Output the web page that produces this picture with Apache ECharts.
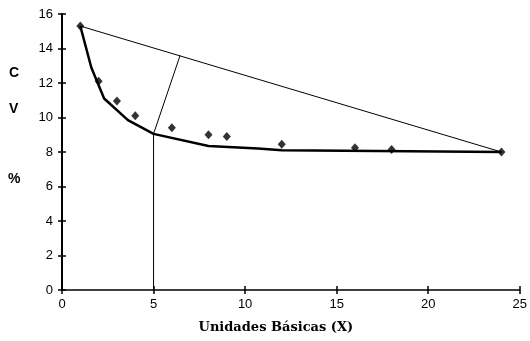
<!DOCTYPE html>
<html lang="es">
<head>
    <meta charset="UTF-8">
    <title>CV vs Unidades Básicas</title>
</head>
<body style="margin:0;background:#fff">
<div id="main" style="width:530px;height:341px"></div>

<script type="text/javascript" src="https://cdn.jsdelivr.net/npm/echarts@6/dist/echarts.min.js"></script>
<script type="text/javascript">
    // puntos observados (diamantes)
    var puntosX = [1, 2, 3, 4, 6, 8, 9, 12, 16, 18, 24];
    var puntosY = [15.3, 12.1, 10.95, 10.1, 9.4, 9.0, 8.9, 8.45, 8.25, 8.15, 8.0];
    // curva gruesa
    var curvaX = [1, 1.6, 2.3, 3.6, 5, 8, 10.7, 12, 24];
    var curvaY = [15.3, 12.9, 11.1, 9.85, 9.05, 8.35, 8.2, 8.1, 8.0];
    // recta entre extremos
    var rectaX = [1, 24];
    var rectaY = [15.3, 8.0];
    // vertical en x=5 y segmento hasta la recta
    var verticalX = [5, 5, 6.45];
    var verticalY = [0, 9.05, 13.6];

    var ejeX = {min: 0, max: 25, interval: 5};
    var ejeY = {min: 0, max: 16, interval: 2};

    function pares(xs, ys) {
        return xs.map(function (x, i) { return [x, ys[i]]; });
    }

    var dom = document.getElementById('main');
    var myChart = echarts.init(dom);

    var fuenteNum = 'Liberation Sans, Arial, sans-serif';
    var fuenteTitulo = 'DejaVu Serif, serif';

    var option = {
        animation: false,
        grid: {left: 62, right: 7, top: 14, bottom: 51},
        xAxis: [{
            type: 'value',
            min: ejeX.min, max: ejeX.max, interval: ejeX.interval,
            splitLine: {show: false},
            axisLine: {lineStyle: {color: '#000', width: 1.5}},
            axisTick: {length: 4, lineStyle: {color: '#000', width: 1.5}},
            axisLabel: {color: '#000', fontSize: 13, fontFamily: fuenteNum, margin: 8},
            name: 'Unidades Básicas (X)',
            nameLocation: 'middle',
            nameGap: 31,
            nameTextStyle: {
                color: '#000', fontSize: 13, fontWeight: 'bold', fontFamily: fuenteTitulo,
                padding: [0, 30, 0, 0]
            }
        }, {
            type: 'value',
            min: ejeX.min, max: ejeX.max, interval: ejeX.interval,
            position: 'bottom',
            splitLine: {show: false},
            axisLine: {show: false},
            axisTick: {inside: true, length: 4, lineStyle: {color: '#000', width: 1.5}},
            axisLabel: {show: false}
        }],
        yAxis: [{
            type: 'value',
            min: ejeY.min, max: ejeY.max, interval: ejeY.interval,
            splitLine: {show: false},
            axisLine: {show: true, lineStyle: {color: '#000', width: 2}},
            axisTick: {show: true, length: 4, lineStyle: {color: '#000', width: 1.5}},
            axisLabel: {color: '#000', fontSize: 13, fontFamily: fuenteNum, margin: 9}
        }, {
            type: 'value',
            min: ejeY.min, max: ejeY.max, interval: ejeY.interval,
            position: 'left',
            splitLine: {show: false},
            axisLine: {show: false},
            axisTick: {show: true, inside: true, length: 4, lineStyle: {color: '#000', width: 1.5}},
            axisLabel: {show: false}
        }],
        graphic: [
            {type: 'text', left: 9, top: 66, style: {text: 'C', font: 'bold 14px ' + fuenteNum, fill: '#000'}},
            {type: 'text', left: 9, top: 102, style: {text: 'V', font: 'bold 14px ' + fuenteNum, fill: '#000'}},
            {type: 'text', left: 8, top: 172, style: {text: '%', font: 'bold 14px ' + fuenteNum, fill: '#000'}}
        ],
        series: [
            {
                name: 'recta',
                type: 'line',
                data: pares(rectaX, rectaY),
                showSymbol: false,
                lineStyle: {color: '#000', width: 1},
                z: 2
            },
            {
                name: 'vertical',
                type: 'line',
                data: pares(verticalX, verticalY),
                showSymbol: false,
                lineStyle: {color: '#000', width: 1},
                z: 2
            },
            {
                name: 'curva',
                type: 'line',
                data: pares(curvaX, curvaY),
                showSymbol: false,
                lineStyle: {color: '#000', width: 2.5},
                z: 3
            },
            {
                name: 'puntos',
                type: 'scatter',
                data: pares(puntosX, puntosY),
                symbol: 'diamond',
                symbolSize: [8, 9],
                itemStyle: {color: '#000'},
                z: 4
            }
        ]
    };

    if (option && typeof option === 'object') {
        myChart.setOption(option);
    }
</script>
</body>
</html>
